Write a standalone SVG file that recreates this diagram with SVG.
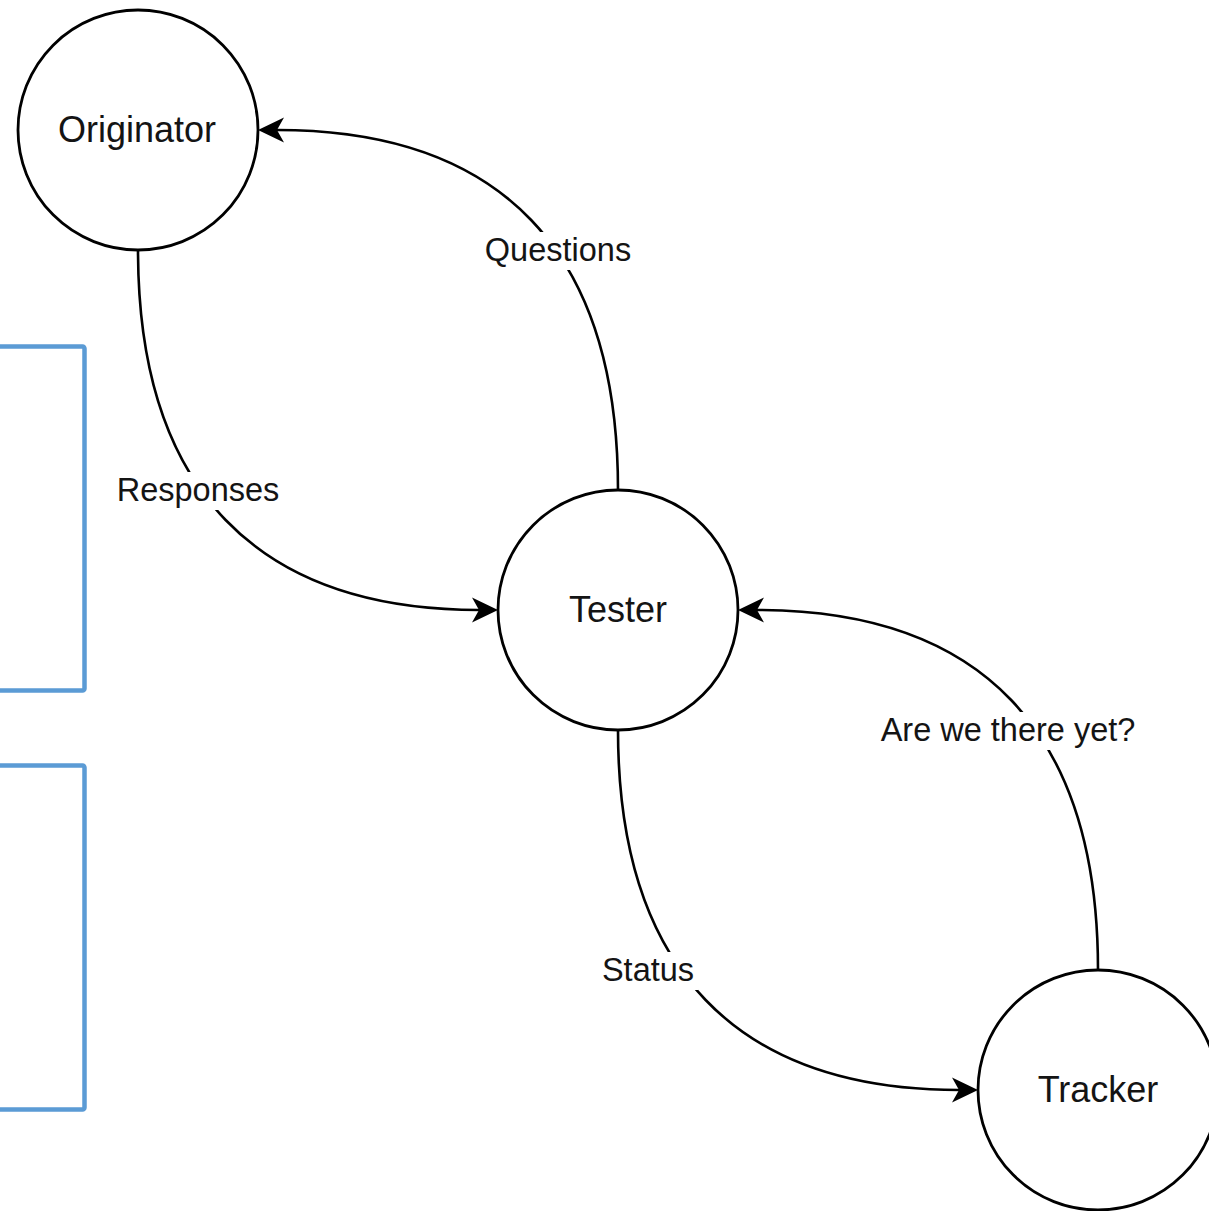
<svg xmlns="http://www.w3.org/2000/svg" width="1209" height="1211" viewBox="0 0 1209 1211">
<style>
.node{fill:#fff;stroke:#000;stroke-width:2.8}
.ntext{font-family:"Liberation Sans",Arial,sans-serif;font-size:36px;fill:#141414;text-anchor:middle}
.edge{fill:none;stroke:#000;stroke-width:2.6}
.ltext{font-family:"Liberation Sans",Arial,sans-serif;font-size:32.5px;fill:#141414;text-anchor:middle}
.lbg{fill:#fff}
.frame{fill:none;stroke:#5B9BD5;stroke-width:4.5}
</style>
<defs>
<marker id="arr" markerUnits="userSpaceOnUse" markerWidth="40" markerHeight="40" viewBox="-10 -15 40 30" refX="0" refY="0" orient="auto" overflow="visible">
<path d="M19,0 L-7,-12.5 L0,0 L-7,12.5 Z" fill="#000"/>
</marker>
</defs>
<rect class="frame" x="-10" y="346.5" width="94.5" height="344" rx="2"/>
<rect class="frame" x="-10" y="765.5" width="94.5" height="344" rx="2"/>
<g id="connectors">
<path class="edge" d="M618,490 C618,250 500,130 277,130" marker-end="url(#arr)"/>
<path class="edge" d="M138,250 C138,490 258,610 479,610" marker-end="url(#arr)"/>
<path class="edge" d="M618,730 C618,970 738,1090 959,1090" marker-end="url(#arr)"/>
<path class="edge" d="M1098,970 C1098,730 980,610 757,610" marker-end="url(#arr)"/>
<rect class="lbg" x="482" y="232" width="154" height="38"/>
<text class="ltext" x="558" y="261">Questions</text>
<rect class="lbg" x="114" y="472" width="170" height="38"/>
<text class="ltext" x="198" y="501">Responses</text>
<rect class="lbg" x="598" y="952" width="100" height="38"/>
<text class="ltext" x="648" y="981">Status</text>
<rect class="lbg" x="876" y="712" width="266" height="38"/>
<text class="ltext" x="1008" y="741">Are we there yet?</text>
</g>
<g id="originator">
<circle class="node" cx="138" cy="130" r="120"/>
<text class="ntext" x="137" y="142">Originator</text>
</g>
<g id="tester">
<circle class="node" cx="618" cy="610" r="120"/>
<text class="ntext" x="618" y="622">Tester</text>
</g>
<g id="tracker">
<circle class="node" cx="1098" cy="1090" r="120"/>
<text class="ntext" x="1098" y="1102">Tracker</text>
</g>
</svg>
